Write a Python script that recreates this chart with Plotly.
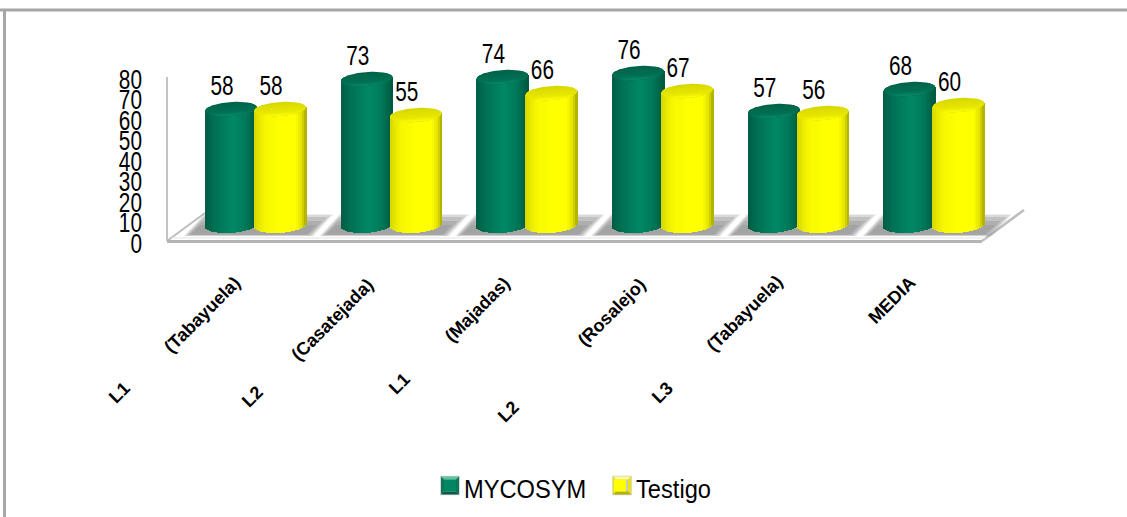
import numpy as np
import plotly.graph_objects as go

# ---- chart data ----
sites = ["(Tabayuela)", "(Casatejada)", "(Majadas)", "(Rosalejo)", "(Tabayuela)", "MEDIA"]
lines = ["L1", "L2", "L1", "L2", "L3", ""]
mycosym = [58, 73, 74, 76, 57, 68]
testigo = [58, 55, 66, 67, 56, 60]
y_ticks = [0, 10, 20, 30, 40, 50, 60, 70, 80]

# ---- page geometry (pixels) ----
W, H = 1127, 517
CAT0_PX, CAT_STEP_PX = 255.5, 135.7   # centre of the first group, spacing of groups
BASE_PX, PX_PER_UNIT = 225.0, 2.0     # 3D bar scale
TICK0_PX, TICK_PX_PER_UNIT = 243.5, 2.05  # scale printed on the wall
CYL_OFFSET_PX, RX_PX, RY_PX, TILT_PX = 24.5, 25.7, 7.0, 1.8
SANS = "Liberation Sans, Arial"


def X(px):
    return (px - CAT0_PX) / CAT_STEP_PX


def V(py):
    return (BASE_PX - py) / PX_PER_UNIT


def lerp_color(stops, t):
    pos = [s[0] for s in stops]
    rgb = [np.interp(t, pos, [s[1][c] for s in stops]) for c in range(3)]
    return "rgb({:.0f},{:.0f},{:.0f})".format(*rgb)


green_body = [(-1, (0, 92, 68)), (-0.6, (0, 114, 84)), (0.1, (0, 136, 100)), (0.6, (0, 120, 88)), (1, (0, 88, 64))]
yellow_body = [(-1, (214, 214, 0)), (-0.6, (246, 246, 0)), (0, (255, 255, 0)), (0.6, (255, 255, 0)),
               (0.85, (226, 226, 0)), (1, (176, 176, 0))]
green_cap = [(0, (0, 100, 74)), (0.65, (0, 112, 83)), (0.9, (8, 134, 100)), (1, (20, 142, 108))]
yellow_cap = [(0, (216, 216, 0)), (0.65, (232, 232, 0)), (0.9, (250, 250, 10)), (1, (255, 255, 60))]

series = [
    ("MYCOSYM", mycosym, -CYL_OFFSET_PX, green_body, green_cap),
    ("Testigo", testigo, CYL_OFFSET_PX, yellow_body, yellow_cap),
]

fig = go.Figure()

# Invisible trace that carries the printed value axis
fig.add_trace(go.Scatter(x=[0], y=[0], mode="markers", marker_opacity=0, showlegend=False,
                         hoverinfo="skip", yaxis="y"))

STRIP_PX = 2.0
strip_centres = np.arange(-RX_PX + STRIP_PX / 2, RX_PX, STRIP_PX)
rx = RX_PX / CAT_STEP_PX
ry = RY_PX / PX_PER_UNIT
tilt = TILT_PX / PX_PER_UNIT

for name, values, off_px, body, cap in series:
    off = off_px / CAT_STEP_PX
    mid = len(strip_centres) // 2
    vals = np.array(values, float)
    # Each cylinder side is a row of thin bars following the elliptical foot
    for k, dpx in enumerate(strip_centres):
        t = dpx / RX_PX
        foot = -(ry + 0.4) * np.sqrt(max(0.0, 1 - t * t)) + tilt * t
        fig.add_trace(go.Bar(
            x=np.arange(len(vals)) + off + dpx / CAT_STEP_PX,
            y=vals + tilt * t - foot,
            base=[foot] * len(vals),
            width=(STRIP_PX + 0.7) / CAT_STEP_PX,
            marker=dict(color=lerp_color(body, t), line_width=0),
            name=name,
            legendgroup=name,
            showlegend=bool(k == mid),
            hoverinfo="skip",
            yaxis="y2",
        ))

# Cylinder tops: ellipses shaded by stacking the part below a moving chord
theta = np.linspace(0, 2 * np.pi, 73)
LAYERS = 9
for name, values, off_px, body, cap in series:
    off = off_px / CAT_STEP_PX
    for layer in range(LAYERS):
        f = layer / (LAYERS - 1)
        level = -1 + 2 * f * 0.97 if layer else -1.01
        xs, ys = [], []
        for i, v in enumerate(values):
            s = np.sin(theta)
            c = np.cos(theta)
            keep = s >= level
            xs += list(i + off + rx * c[keep]) + [None]
            ys += list(v - ry * s[keep] + tilt * c[keep]) + [None]
        fig.add_trace(go.Scatter(x=xs, y=ys, mode="lines", fill="toself",
                                 fillcolor=lerp_color(cap, f), line_width=0,
                                 showlegend=False, hoverinfo="skip", yaxis="y2"))

# Value labels above each cylinder
for name, values, off_px, body, cap in series:
    fig.add_trace(go.Scatter(
        x=np.arange(len(values)) + (off_px - 9) / CAT_STEP_PX,
        y=np.array(values, float) + 10.5,
        mode="text",
        text=[str(v) for v in values],
        textposition="middle center",
        textfont=dict(family=SANS, size=27, color="#000000"),
        showlegend=False, hoverinfo="skip", yaxis="y2",
    ))


def poly_x_y(points):
    return "M" + "L".join(f"{X(px):.4f},{V(py):.3f}" for px, py in points) + "Z"


shapes = []
# Soft grey shadows lying on the floor behind each pair: darker toward the front
for i in range(len(sites)):
    cx = CAT0_PX + i * CAT_STEP_PX
    for grow, top, alpha in [(3, 214, 0.14), (1.5, 215, 0.22), (0, 217, 0.30), (-2, 221, 0.34), (-4, 225, 0.36)]:
        skew = (235.5 - top) * 0.95
        pts = [(cx - 69 - grow, 235.5 + grow * 0.25), (cx - 69 - grow + skew, top),
               (cx + 55 + grow + skew, top), (cx + 55 + grow, 235.5 + grow * 0.25)]
        shapes.append(dict(type="path", path=poly_x_y(pts), xref="x", yref="y2", layer="below",
                           fillcolor=f"rgba(140,140,140,{alpha})", line_width=0))


def line_px(x0, y0, x1, y1, color, width, layer="below"):
    return dict(type="line", xref="paper", yref="paper", x0=x0 / W, x1=x1 / W, y0=1 - y0 / H, y1=1 - y1 / H,
                line=dict(color=color, width=width), layer=layer)


# Outer frame (top and left only) and the floor / wall edges
shapes += [
    line_px(0, 10, W, 10, "#a6a6a6", 3),
    line_px(4.5, 9, 4.5, H, "#a6a6a6", 3),
    line_px(167, 77, 167, 241, "#c4c4c4", 2),
    line_px(167, 241, 205, 213, "#bdbdbd", 2),
    line_px(167, 241.5, 982, 241.5, "#b4b4b4", 3),
    line_px(982, 241, 1024, 210, "#bdbdbd", 2.5),
    line_px(172, 238, 985, 238, "#ececec", 1.5),
]


def bevel(x0, y0, size, top, side, bottom, edge):
    """Raised square drawn round the legend swatch."""
    x1, y1 = x0 + size, y0 + size
    inset = 3

    def tri(pts, col):
        path = "M" + "L".join(f"{px / W:.5f},{1 - py / H:.5f}" for px, py in pts) + "Z"
        return dict(type="path", xref="paper", yref="paper", path=path, fillcolor=col, line_width=0, layer="above")

    return [
        tri([(x0 - 0.7, y0 - 0.7), (x1 + 0.7, y0 - 0.7), (x1 + 0.7, y1 + 0.7), (x0 - 0.7, y1 + 0.7)], edge),
        tri([(x0, y0), (x1, y0), (x1 - inset, y0 + inset), (x0 + inset, y0 + inset)], top),
        tri([(x0, y0), (x0 + inset, y0 + inset), (x0 + inset, y1 - inset), (x0, y1)], side),
        tri([(x1, y0), (x1 - inset, y0 + inset), (x1 - inset, y1 - inset), (x1, y1)], side),
        tri([(x0, y1), (x0 + inset, y1 - inset), (x1 - inset, y1 - inset), (x1, y1)], bottom),
    ]


shapes += bevel(441, 476.5, 18, "#5cc4a0", "#0e7658", "#0a5c46", "#c8c8c8")
shapes += bevel(613, 476.5, 18, "#ffff90", "#e6e600", "#b4b400", "#c8c8c8")

# Rotated category captions, placed by hand on the page
site_centres = [(202, 315), (332, 320), (477, 310), (612, 312), (745, 313), (892, 300)]
line_centres = [(119, 393), (252, 397), (399, 384), (508, 412), (662, 393), None]
annotations = []
for text, pos in list(zip(sites, site_centres)) + list(zip(lines, line_centres)):
    if not text:
        continue
    annotations.append(dict(text=text, xref="paper", yref="paper", x=pos[0] / W, y=1 - pos[1] / H,
                            xanchor="center", yanchor="middle", textangle=-45, showarrow=False,
                            font=dict(family=SANS, size=18, weight=700, color="#000000")))

fig.update_layout(
    width=W, height=H,
    margin=dict(l=0, r=0, t=0, b=0),
    paper_bgcolor="white", plot_bgcolor="rgba(0,0,0,0)",
    barmode="overlay", bargap=0,
    shapes=shapes, annotations=annotations,
    xaxis=dict(visible=False, range=[X(0), X(W)], domain=[0, 1], fixedrange=True),
    yaxis=dict(range=[(TICK0_PX - H) / TICK_PX_PER_UNIT, TICK0_PX / TICK_PX_PER_UNIT],
               domain=[0, 1], tickmode="array", tickvals=y_ticks, ticktext=[str(v) for v in y_ticks],
               showgrid=False, zeroline=False, showline=False, ticks="",
               tickfont=dict(family=SANS, size=27, color="#000000"),
               anchor="free", position=142 / W, side="left", fixedrange=True),
    yaxis2=dict(range=[V(H), V(0)], domain=[0, 1], overlaying="y", visible=False, fixedrange=True),
    legend=dict(orientation="h", x=424 / W, xanchor="left", y=1 - 488 / H, yanchor="middle",
                font=dict(family=SANS, size=26, color="#000000"),
                entrywidth=125, entrywidthmode="pixels",
                bgcolor="rgba(0,0,0,0)", traceorder="normal"),
    showlegend=True,
)

# The chart's type is a narrow sans: condense the numerals and legend text,
# and nudge the legend swatches into their bevelled frames.
condense = """
var squeeze = function () {
  var rules = [['.ytick text', 0.77], ['.textpoint text', 0.77], ['.legendtext', 0.91]];
  rules.forEach(function (r) {
    document.querySelectorAll(r[0]).forEach(function (el) {
      if (!el.dataset.fullWidth) { el.dataset.fullWidth = el.getComputedTextLength(); }
      el.setAttribute('textLength', parseFloat(el.dataset.fullWidth) * r[1]);
      el.setAttribute('lengthAdjust', 'spacingAndGlyphs');
    });
  });
  document.querySelectorAll('.legendsymbols').forEach(function (el) {
    el.setAttribute('transform', 'translate(6,-2.5)');
  });
  var labels = document.querySelectorAll('.legendtext');
  if (labels.length > 1) { labels[1].setAttribute('transform', 'translate(2,0)'); }
};
squeeze();
setTimeout(squeeze, 100);
"""

fig.write_html("out.html", config=dict(displayModeBar=False), post_script=condense)
